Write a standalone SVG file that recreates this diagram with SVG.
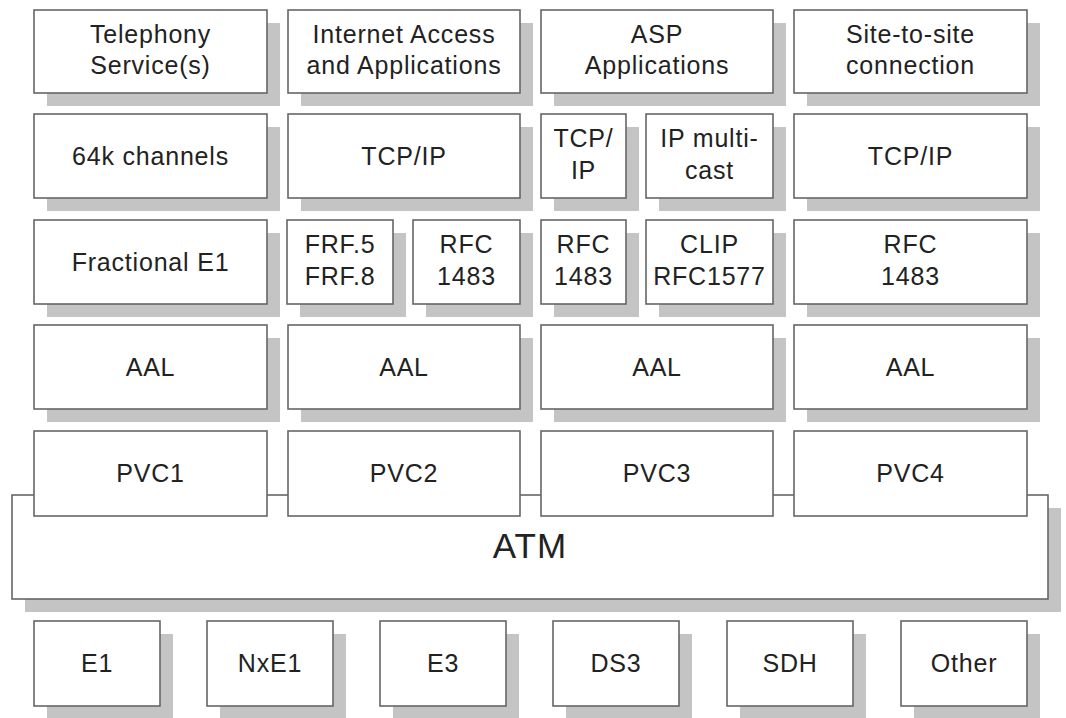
<svg xmlns="http://www.w3.org/2000/svg" width="1066" height="718" viewBox="0 0 1066 718">
  <style>
    .box { fill: #ffffff; stroke: #666666; stroke-width: 1.6; }
    .sh { fill: #c4c4c4; }
    .t { font-family: "Liberation Sans", Arial, sans-serif; font-size: 25px; letter-spacing: 0.8px; fill: #222222; text-anchor: middle; }
    .big { font-size: 35px; letter-spacing: 1px; }
  </style>
  <rect width="1066" height="718" fill="#ffffff"/>

  <!-- Row 1: services -->
  <g id="telephony">
    <rect class="sh" x="47" y="23" width="233" height="83"/>
    <rect class="box" x="34" y="10" width="233" height="83"/>
    <text class="t" x="150.5" y="43">Telephony</text>
    <text class="t" x="150.5" y="74">Service(s)</text>
  </g>
  <g id="internet">
    <rect class="sh" x="301" y="23" width="232" height="83"/>
    <rect class="box" x="288" y="10" width="232" height="83"/>
    <text class="t" x="404" y="43">Internet Access</text>
    <text class="t" x="404" y="74">and Applications</text>
  </g>
  <g id="asp">
    <rect class="sh" x="554" y="23" width="232" height="83"/>
    <rect class="box" x="541" y="10" width="232" height="83"/>
    <text class="t" x="657" y="43">ASP</text>
    <text class="t" x="657" y="74">Applications</text>
  </g>
  <g id="site">
    <rect class="sh" x="807" y="23" width="233" height="83"/>
    <rect class="box" x="794" y="10" width="233" height="83"/>
    <text class="t" x="910.5" y="43">Site-to-site</text>
    <text class="t" x="910.5" y="74">connection</text>
  </g>

  <!-- Row 2 -->
  <g id="ch64k">
    <rect class="sh" x="47" y="127" width="233" height="84"/>
    <rect class="box" x="34" y="114" width="233" height="84"/>
    <text class="t" x="150.5" y="165">64k channels</text>
  </g>
  <g id="tcpip2">
    <rect class="sh" x="301" y="127" width="232" height="84"/>
    <rect class="box" x="288" y="114" width="232" height="84"/>
    <text class="t" x="404" y="165">TCP/IP</text>
  </g>
  <g id="tcpip3">
    <rect class="sh" x="554" y="127" width="85" height="84"/>
    <rect class="box" x="541" y="114" width="85" height="84"/>
    <text class="t" x="583.5" y="147">TCP/</text>
    <text class="t" x="583.5" y="179">IP</text>
  </g>
  <g id="multicast">
    <rect class="sh" x="659" y="127" width="127" height="84"/>
    <rect class="box" x="646" y="114" width="127" height="84"/>
    <text class="t" x="709.5" y="147">IP multi-</text>
    <text class="t" x="709.5" y="179">cast</text>
  </g>
  <g id="tcpip4">
    <rect class="sh" x="807" y="127" width="233" height="84"/>
    <rect class="box" x="794" y="114" width="233" height="84"/>
    <text class="t" x="910.5" y="165">TCP/IP</text>
  </g>

  <!-- Row 3 -->
  <g id="fracE1">
    <rect class="sh" x="47" y="233" width="233" height="84"/>
    <rect class="box" x="34" y="220" width="233" height="84"/>
    <text class="t" x="150.5" y="271">Fractional E1</text>
  </g>
  <g id="frf">
    <rect class="sh" x="300" y="233" width="106" height="84"/>
    <rect class="box" x="287" y="220" width="106" height="84"/>
    <text class="t" x="340" y="253">FRF.5</text>
    <text class="t" x="340" y="285">FRF.8</text>
  </g>
  <g id="rfc2">
    <rect class="sh" x="426" y="233" width="107" height="84"/>
    <rect class="box" x="413" y="220" width="107" height="84"/>
    <text class="t" x="466.5" y="253">RFC</text>
    <text class="t" x="466.5" y="285">1483</text>
  </g>
  <g id="rfc3">
    <rect class="sh" x="554" y="233" width="85" height="84"/>
    <rect class="box" x="541" y="220" width="85" height="84"/>
    <text class="t" x="583.5" y="253">RFC</text>
    <text class="t" x="583.5" y="285">1483</text>
  </g>
  <g id="clip">
    <rect class="sh" x="659" y="233" width="127" height="84"/>
    <rect class="box" x="646" y="220" width="127" height="84"/>
    <text class="t" x="709.5" y="253">CLIP</text>
    <text class="t" x="709.5" y="285">RFC1577</text>
  </g>
  <g id="rfc4">
    <rect class="sh" x="807" y="233" width="233" height="84"/>
    <rect class="box" x="794" y="220" width="233" height="84"/>
    <text class="t" x="910.5" y="253">RFC</text>
    <text class="t" x="910.5" y="285">1483</text>
  </g>

  <!-- Row 4: AAL -->
  <g id="aal1">
    <rect class="sh" x="47" y="338" width="233" height="84"/>
    <rect class="box" x="34" y="325" width="233" height="84"/>
    <text class="t" x="150.5" y="376">AAL</text>
  </g>
  <g id="aal2">
    <rect class="sh" x="301" y="338" width="232" height="84"/>
    <rect class="box" x="288" y="325" width="232" height="84"/>
    <text class="t" x="404" y="376">AAL</text>
  </g>
  <g id="aal3">
    <rect class="sh" x="554" y="338" width="232" height="84"/>
    <rect class="box" x="541" y="325" width="232" height="84"/>
    <text class="t" x="657" y="376">AAL</text>
  </g>
  <g id="aal4">
    <rect class="sh" x="807" y="338" width="233" height="84"/>
    <rect class="box" x="794" y="325" width="233" height="84"/>
    <text class="t" x="910.5" y="376">AAL</text>
  </g>

  <!-- ATM layer, with the PVCs sitting on its top edge -->
  <g id="atm">
    <rect class="sh" x="25" y="508" width="1036" height="104"/>
    <rect class="box" x="12" y="495" width="1036" height="104"/>
    <text class="t big" x="530" y="558">ATM</text>
  </g>
  <g id="pvc1">
    <rect class="box" x="34" y="431" width="233" height="85"/>
    <text class="t" x="150.5" y="482">PVC1</text>
  </g>
  <g id="pvc2">
    <rect class="box" x="288" y="431" width="232" height="85"/>
    <text class="t" x="404" y="482">PVC2</text>
  </g>
  <g id="pvc3">
    <rect class="box" x="541" y="431" width="232" height="85"/>
    <text class="t" x="657" y="482">PVC3</text>
  </g>
  <g id="pvc4">
    <rect class="box" x="794" y="431" width="233" height="85"/>
    <text class="t" x="910.5" y="482">PVC4</text>
  </g>

  <!-- Physical interfaces -->
  <g id="e1">
    <rect class="sh" x="47" y="634" width="126" height="85"/>
    <rect class="box" x="34" y="621" width="126" height="85"/>
    <text class="t" x="97" y="672">E1</text>
  </g>
  <g id="nxe1">
    <rect class="sh" x="220" y="634" width="126" height="85"/>
    <rect class="box" x="207" y="621" width="126" height="85"/>
    <text class="t" x="270" y="672">NxE1</text>
  </g>
  <g id="e3">
    <rect class="sh" x="393" y="634" width="126" height="85"/>
    <rect class="box" x="380" y="621" width="126" height="85"/>
    <text class="t" x="443" y="672">E3</text>
  </g>
  <g id="ds3">
    <rect class="sh" x="566" y="634" width="126" height="85"/>
    <rect class="box" x="553" y="621" width="126" height="85"/>
    <text class="t" x="616" y="672">DS3</text>
  </g>
  <g id="sdh">
    <rect class="sh" x="740" y="634" width="126" height="85"/>
    <rect class="box" x="727" y="621" width="126" height="85"/>
    <text class="t" x="790" y="672">SDH</text>
  </g>
  <g id="other">
    <rect class="sh" x="914" y="634" width="126" height="85"/>
    <rect class="box" x="901" y="621" width="126" height="85"/>
    <text class="t" x="964" y="672">Other</text>
  </g>
</svg>
